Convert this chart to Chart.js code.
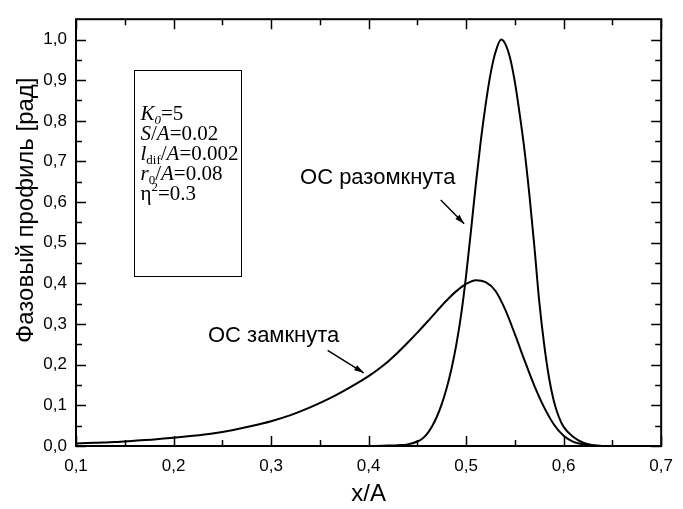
<!DOCTYPE html>
<html>
<head>
<meta charset="utf-8">
<script src="https://cdn.jsdelivr.net/npm/chart.js@4.4.1/dist/chart.umd.min.js"></script>
<style>
  html, body { margin: 0; padding: 0; background: #fff; }
  #wrap { width: 683px; height: 509px; }
</style>
</head>
<body>
<div id="wrap"><canvas id="grafico" width="683" height="509"></canvas></div>
<script>
// ОС замкнута
const xZamk = [0.10, 0.12, 0.14, 0.16, 0.18, 0.20, 0.22, 0.24, 0.26, 0.28, 0.30, 0.32, 0.34, 0.36, 0.38,
               0.40, 0.41, 0.42, 0.43, 0.44, 0.45, 0.46, 0.47, 0.48, 0.49, 0.50, 0.51, 0.52, 0.53, 0.54,
               0.55, 0.56, 0.57, 0.58, 0.59, 0.60, 0.61, 0.62, 0.63, 0.64, 0.70];
const yZamk = [0.006, 0.008, 0.010, 0.013, 0.016, 0.020, 0.025, 0.031, 0.039, 0.049, 0.061, 0.076, 0.095, 0.117, 0.143,
               0.172, 0.189, 0.208, 0.230, 0.254, 0.279, 0.305, 0.332, 0.358, 0.381, 0.399, 0.408, 0.403, 0.382, 0.336,
               0.275, 0.210, 0.148, 0.095, 0.053, 0.025, 0.010, 0.004, 0.001, 0.000, 0.000];

// ОС разомкнута
const xRazomk = [0.40, 0.42, 0.43, 0.44, 0.45, 0.455, 0.46, 0.465, 0.47, 0.475, 0.48, 0.485, 0.49, 0.495,
                 0.50, 0.505, 0.51, 0.515, 0.52, 0.525, 0.53, 0.536, 0.54, 0.545, 0.55, 0.555, 0.56, 0.565,
                 0.57, 0.575, 0.58, 0.585, 0.59, 0.595, 0.60, 0.61, 0.62, 0.63, 0.64, 0.70];
const yRazomk = [0.000, 0.001, 0.002, 0.004, 0.011, 0.018, 0.030, 0.048, 0.072, 0.103, 0.142, 0.190, 0.250, 0.325,
                 0.420, 0.530, 0.645, 0.750, 0.840, 0.915, 0.968, 1.000, 0.990, 0.955, 0.895, 0.815, 0.725, 0.615,
                 0.490, 0.355, 0.250, 0.168, 0.110, 0.072, 0.047, 0.022, 0.008, 0.002, 0.000, 0.000];

const xTicks = [0.1, 0.2, 0.3, 0.4, 0.5, 0.6, 0.7];
const xMinor = [0.15, 0.25, 0.35, 0.45, 0.55, 0.65];
const yTicks = [0.0, 0.1, 0.2, 0.3, 0.4, 0.5, 0.6, 0.7, 0.8, 0.9, 1.0];
const yMinor = [0.05, 0.15, 0.25, 0.35, 0.45, 0.55, 0.65, 0.75, 0.85, 0.95];

const etichettaAperta = 'ОС разомкнута';
const etichettaChiusa = 'ОС замкнута';
const titoloX = 'x/A';
const titoloY = 'Фазовый профиль [рад]';

// righe del riquadro: t = testo, i = corsivo, sub/sup = pedice/apice
const parametri = [
    [{ t: 'K', i: true }, { t: '0', i: true, sub: true }, { t: '=5' }],
    [{ t: 'S', i: true }, { t: '/' }, { t: 'A', i: true }, { t: '=0.02' }],
    [{ t: 'l', i: true }, { t: 'dif', sub: true }, { t: '/' }, { t: 'A', i: true }, { t: '=0.002' }],
    [{ t: 'r', i: true }, { t: '0', sub: true }, { t: '/' }, { t: 'A', i: true }, { t: '=0.08' }],
    [{ t: 'η' }, { t: '2', sup: true }, { t: '=0.3' }]
];

const sans = '"Liberation Sans", Arial, sans-serif';
const serif = '"Liberation Serif", "Times New Roman", serif';

function punti(xs, ys) {
    return xs.map((x, k) => ({ x: x, y: ys[k] }));
}

function formatta(v) {
    return v.toFixed(1).replace('.', ',');
}

// cornice e tacche verso l'interno su tutti i lati
const pluginAssi = {
    id: 'pluginAssi',
    afterDatasetsDraw(chart) {
        const ctx = chart.ctx;
        const a = chart.chartArea;
        const sx = chart.scales.x;
        const sy = chart.scales.y;
        ctx.save();
        ctx.strokeStyle = '#000';
        ctx.lineWidth = 2;
        ctx.strokeRect(a.left, a.top, a.right - a.left, a.bottom - a.top);
        ctx.beginPath();
        const taccaX = (vals, len) => {
            vals.forEach(v => {
                const px = Math.round(sx.getPixelForValue(v)) + 0.5;
                ctx.moveTo(px, a.bottom); ctx.lineTo(px, a.bottom - len);
                ctx.moveTo(px, a.top); ctx.lineTo(px, a.top + len);
            });
        };
        const taccaY = (vals, len) => {
            vals.forEach(v => {
                const py = Math.round(sy.getPixelForValue(v)) + 0.5;
                ctx.moveTo(a.left, py); ctx.lineTo(a.left + len, py);
                ctx.moveTo(a.right, py); ctx.lineTo(a.right - len, py);
            });
        };
        taccaX(xTicks, 10);
        taccaX(xMinor, 6);
        taccaY(yTicks, 10);
        taccaY(yMinor, 6);
        ctx.lineWidth = 1.5;
        ctx.stroke();
        ctx.restore();
    }
};

function freccia(ctx, x1, y1, x2, y2) {
    const ang = Math.atan2(y2 - y1, x2 - x1);
    ctx.beginPath();
    ctx.moveTo(x1, y1);
    ctx.lineTo(x2, y2);
    ctx.lineWidth = 1.5;
    ctx.stroke();
    ctx.beginPath();
    ctx.moveTo(x2, y2);
    ctx.lineTo(x2 - 10 * Math.cos(ang - 0.3), y2 - 10 * Math.sin(ang - 0.3));
    ctx.lineTo(x2 - 10 * Math.cos(ang + 0.3), y2 - 10 * Math.sin(ang + 0.3));
    ctx.closePath();
    ctx.fill();
}

const pluginNote = {
    id: 'pluginNote',
    afterDatasetsDraw(chart) {
        const ctx = chart.ctx;
        const sx = chart.scales.x;
        const sy = chart.scales.y;
        const X = v => sx.getPixelForValue(v);
        const Y = v => sy.getPixelForValue(v);
        ctx.save();
        ctx.fillStyle = '#000';
        ctx.strokeStyle = '#000';

        // riquadro parametri
        const bx1 = Math.round(X(0.159)) + 0.5, bx2 = Math.round(X(0.269)) + 0.5;
        const by1 = Math.round(Y(0.925)) + 0.5, by2 = Math.round(Y(0.419)) + 0.5;
        ctx.lineWidth = 1;
        ctx.strokeRect(bx1, by1, bx2 - bx1, by2 - by1);
        ctx.textBaseline = 'alphabetic';
        ctx.textAlign = 'left';
        parametri.forEach((riga, k) => {
            let x = bx1 + 6;
            const base = by1 + 49 + k * 20;
            riga.forEach(p => {
                const size = (p.sub || p.sup) ? 13 : 21;
                ctx.font = (p.i ? 'italic ' : '') + size + 'px ' + serif;
                let y = base;
                if (p.sub) y += 4;
                if (p.sup) y -= 9;
                ctx.fillText(p.t, x, y);
                x += ctx.measureText(p.t).width;
            });
        });

        // titolo asse y
        ctx.save();
        ctx.translate(33, Y(0.58));
        ctx.rotate(-Math.PI / 2);
        ctx.font = '24px ' + sans;
        ctx.textAlign = 'center';
        ctx.fillText(titoloY, 0, 0);
        ctx.restore();

        // etichette delle curve
        ctx.font = '22px ' + sans;
        ctx.textBaseline = 'alphabetic';
        ctx.textAlign = 'right';
        ctx.fillText(etichettaAperta, X(0.489), Y(0.645));
        ctx.fillText(etichettaChiusa, X(0.37), Y(0.255));
        freccia(ctx, X(0.474), Y(0.605), X(0.498), Y(0.547));
        freccia(ctx, X(0.358), Y(0.235), X(0.395), Y(0.18));
        ctx.restore();
    }
};

const ctxFase = document.getElementById('grafico').getContext('2d');
const graficoFase = new Chart(ctxFase, {
    type: 'scatter',
    data: {
        datasets: [
            {
                label: etichettaChiusa,
                data: punti(xZamk, yZamk),
                showLine: true,
                borderColor: '#000',
                borderWidth: 2,
                pointRadius: 0,
                cubicInterpolationMode: 'monotone',
                fill: false
            },
            {
                label: etichettaAperta,
                data: punti(xRazomk, yRazomk),
                showLine: true,
                borderColor: '#000',
                borderWidth: 2,
                pointRadius: 0,
                cubicInterpolationMode: 'monotone',
                fill: false
            }
        ]
    },
    options: {
        responsive: false,
        animation: false,
        layout: { padding: { top: 10, right: 15, left: 0, bottom: 0 } },
        plugins: {
            legend: { display: false },
            tooltip: { enabled: false }
        },
        scales: {
            x: {
                type: 'linear',
                min: 0.1,
                max: 0.7,
                afterBuildTicks: s => { s.ticks = xTicks.map(v => ({ value: v })); },
                afterFit: s => { s.height = 63; },
                grid: { display: false, drawTicks: false },
                border: { display: false },
                ticks: {
                    padding: 10,
                    color: '#000',
                    maxRotation: 0,
                    font: { family: sans, size: 17 },
                    callback: v => formatta(v)
                },
                title: {
                    display: true,
                    text: titoloX,
                    color: '#000',
                    font: { family: sans, size: 24 },
                    padding: { top: 0, bottom: 0 }
                }
            },
            y: {
                type: 'linear',
                min: 0,
                max: 1.05,
                afterBuildTicks: s => { s.ticks = yTicks.map(v => ({ value: v })); },
                afterFit: s => { s.width = 76; },
                grid: { display: false, drawTicks: false },
                border: { display: false },
                ticks: {
                    padding: 9,
                    color: '#000',
                    font: { family: sans, size: 17 },
                    callback: v => formatta(v)
                },
                title: { display: false }
            }
        }
    },
    plugins: [pluginAssi, pluginNote]
});
</script>
</body>
</html>
